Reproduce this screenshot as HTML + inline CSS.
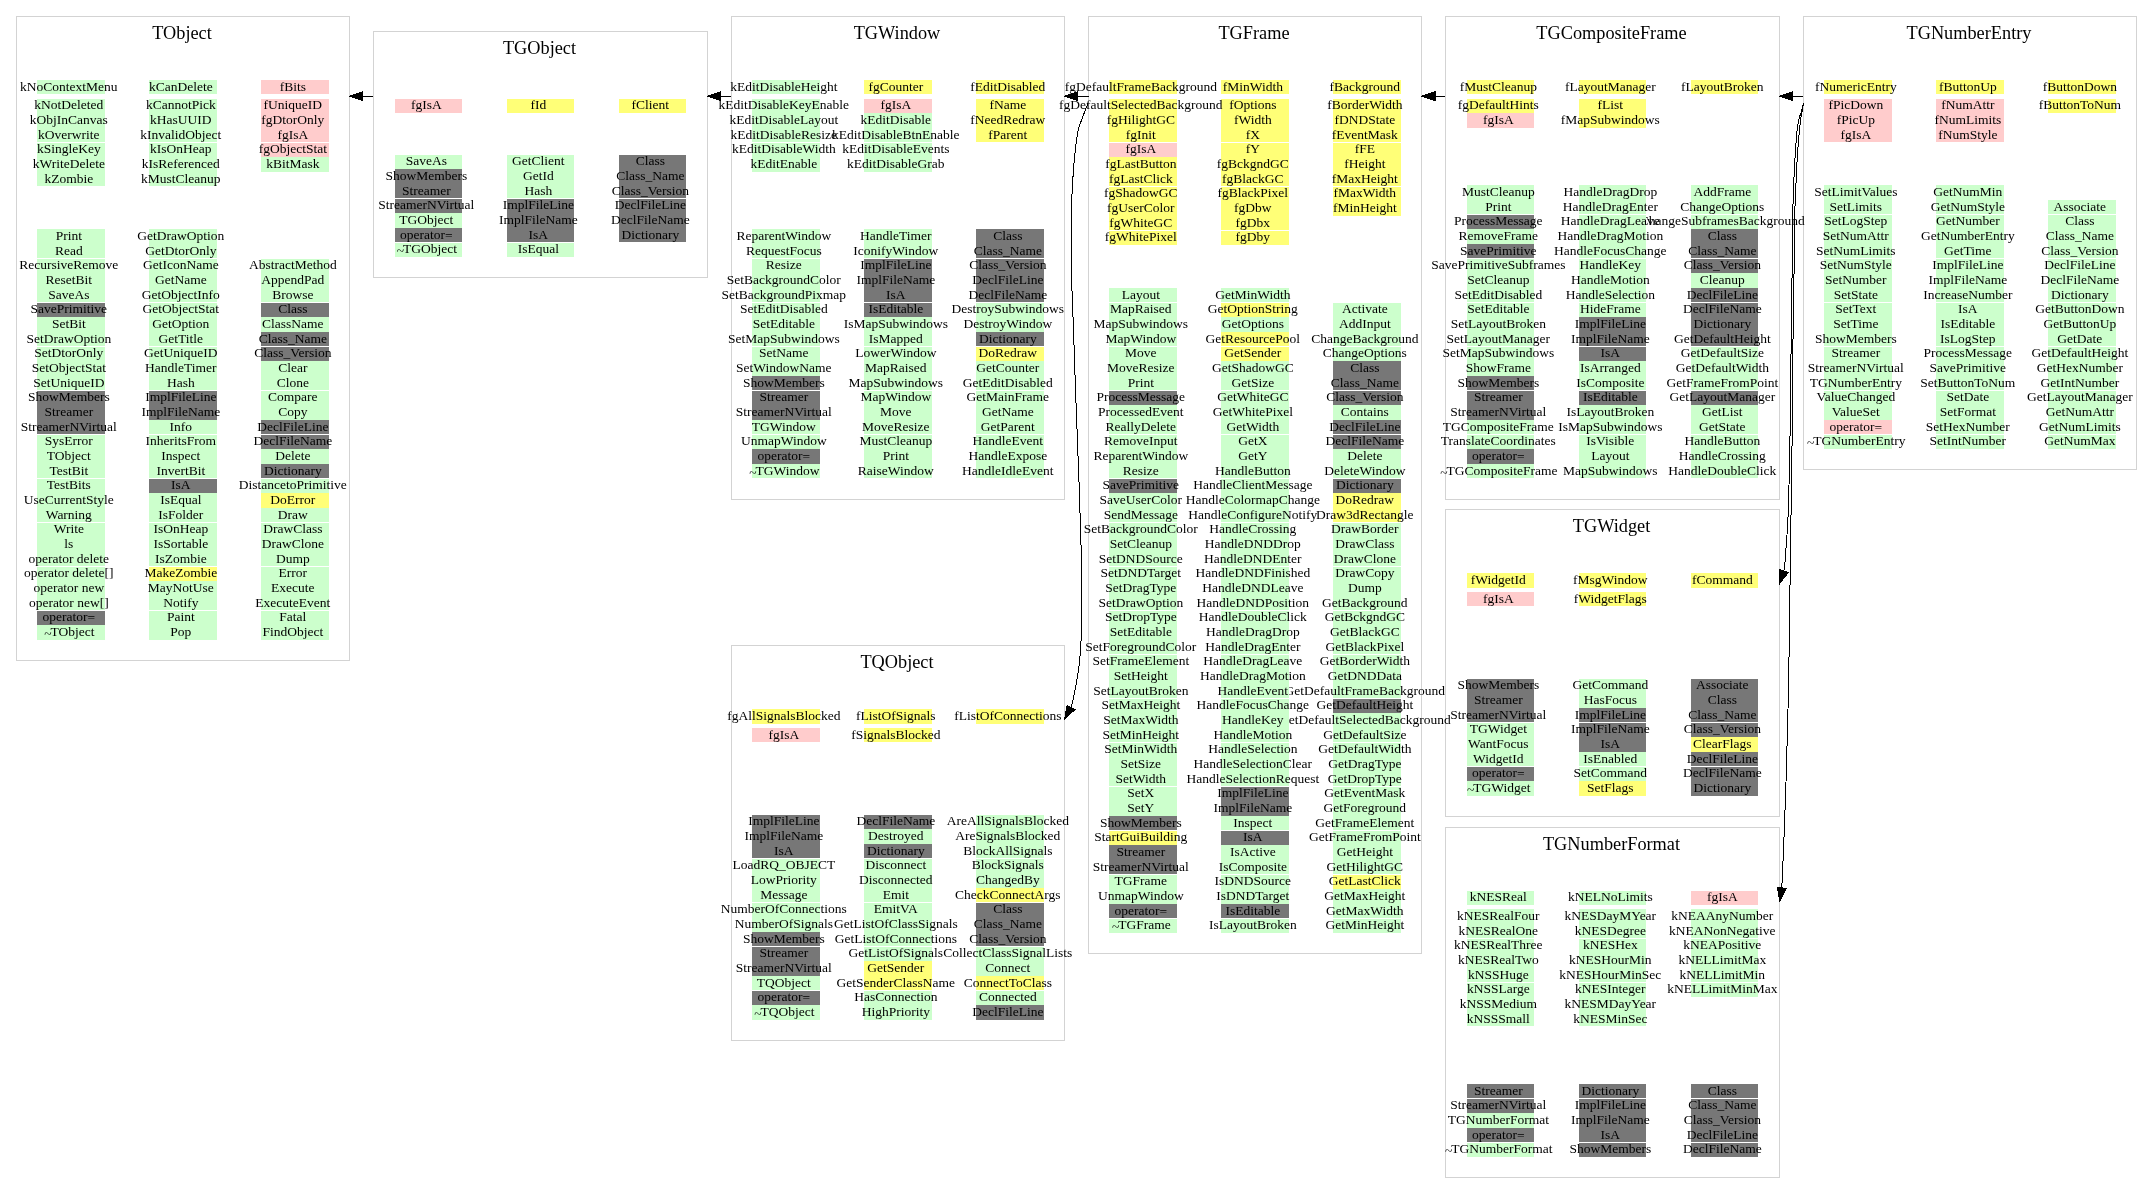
<!DOCTYPE html>
<html><head><meta charset="utf-8"><title>TGNumberEntry inheritance / member chart</title>
<style>
html,body{margin:0;padding:0;background:#fff;}
body{width:2152px;height:1204px;position:relative;overflow:hidden;font-family:"Liberation Serif",serif;color:#000;}
.b{position:absolute;border:1px solid #d3d3d3;box-sizing:border-box;}
.t{position:absolute;font-size:18.3px;line-height:20px;text-align:center;white-space:nowrap;}
.c{position:absolute;width:68px;height:14px;box-sizing:border-box;padding-right:4.4px;display:flex;justify-content:center;white-space:nowrap;font-size:13.5px;line-height:11px;}
.d{padding-top:1px}
.c i{font-style:normal;position:relative;top:2px;left:1px}
.c b{font-weight:normal;position:relative;top:1px}
.g{background:#ccffcc}.y{background:#ffff77}.p{background:#ffcccc}.k{background:#777777}
svg{position:absolute;left:0;top:0;}
#w{position:absolute;left:0;top:0;width:2152px;height:1204px;will-change:transform;}
</style></head><body><div id="w">

<div class="b" style="left:16px;top:16px;width:334px;height:645px"></div>
<div class="b" style="left:373px;top:31px;width:335px;height:247px"></div>
<div class="b" style="left:731px;top:16px;width:334px;height:484px"></div>
<div class="b" style="left:731px;top:645px;width:334px;height:396px"></div>
<div class="b" style="left:1088px;top:16px;width:334px;height:938px"></div>
<div class="b" style="left:1445px;top:16px;width:335px;height:484px"></div>
<div class="b" style="left:1445px;top:509px;width:335px;height:308px"></div>
<div class="b" style="left:1445px;top:827px;width:335px;height:351px"></div>
<div class="b" style="left:1803px;top:16px;width:334px;height:454px"></div>
<div class="t" style="left:15px;top:22.7px;width:334px">TObject</div>
<div class="c p d" style="left:261px;top:80px">fBits</div>
<div class="c p" style="left:261px;top:99px">fUniqueID</div>
<div class="c p d" style="left:261px;top:113px;height:15px">fgDtorOnly</div>
<div class="c p d" style="left:261px;top:128px">fgIsA</div>
<div class="c p" style="left:261px;top:143px">fgObjectStat</div>
<div class="c g d" style="left:261px;top:157px;height:15px">kBitMask</div>
<div class="c g" style="left:261px;top:259px">AbstractMethod</div>
<div class="c g d" style="left:261px;top:273px;height:15px">AppendPad</div>
<div class="c g d" style="left:261px;top:288px">Browse</div>
<div class="c k" style="left:261px;top:303px">Class</div>
<div class="c g d" style="left:261px;top:317px;height:15px">ClassName</div>
<div class="c k d" style="left:261px;top:332px">Class_Name</div>
<div class="c k" style="left:261px;top:347px">Class_Version</div>
<div class="c g d" style="left:261px;top:361px;height:15px">Clear</div>
<div class="c g d" style="left:261px;top:376px">Clone</div>
<div class="c g" style="left:261px;top:391px">Compare</div>
<div class="c g d" style="left:261px;top:405px;height:15px">Copy</div>
<div class="c k d" style="left:261px;top:420px">DeclFileLine</div>
<div class="c k" style="left:261px;top:435px">DeclFileName</div>
<div class="c g d" style="left:261px;top:449px;height:15px">Delete</div>
<div class="c k d" style="left:261px;top:464px">Dictionary</div>
<div class="c g" style="left:261px;top:479px">DistancetoPrimitive</div>
<div class="c y d" style="left:261px;top:493px;height:15px">DoError</div>
<div class="c g d" style="left:261px;top:508px">Draw</div>
<div class="c g" style="left:261px;top:523px">DrawClass</div>
<div class="c g d" style="left:261px;top:537px;height:15px">DrawClone</div>
<div class="c g d" style="left:261px;top:552px">Dump</div>
<div class="c g" style="left:261px;top:567px">Error</div>
<div class="c g d" style="left:261px;top:581px;height:15px">Execute</div>
<div class="c g d" style="left:261px;top:596px">ExecuteEvent</div>
<div class="c g" style="left:261px;top:611px">Fatal</div>
<div class="c g d" style="left:261px;top:625px;height:15px">FindObject</div>
<div class="c g d" style="left:149px;top:80px">kCanDelete</div>
<div class="c g" style="left:149px;top:99px">kCannotPick</div>
<div class="c g d" style="left:149px;top:113px;height:15px">kHasUUID</div>
<div class="c g d" style="left:149px;top:128px">kInvalidObject</div>
<div class="c g" style="left:149px;top:143px">kIsOnHeap</div>
<div class="c g d" style="left:149px;top:157px;height:15px">kIsReferenced</div>
<div class="c g d" style="left:149px;top:172px">kMustCleanup</div>
<div class="c g d" style="left:149px;top:229px;height:15px">GetDrawOption</div>
<div class="c g d" style="left:149px;top:244px">GetDtorOnly</div>
<div class="c g" style="left:149px;top:259px">GetIconName</div>
<div class="c g d" style="left:149px;top:273px;height:15px">GetName</div>
<div class="c g d" style="left:149px;top:288px">GetObjectInfo</div>
<div class="c g" style="left:149px;top:303px">GetObjectStat</div>
<div class="c g d" style="left:149px;top:317px;height:15px">GetOption</div>
<div class="c g d" style="left:149px;top:332px">GetTitle</div>
<div class="c g" style="left:149px;top:347px">GetUniqueID</div>
<div class="c g d" style="left:149px;top:361px;height:15px">HandleTimer</div>
<div class="c g d" style="left:149px;top:376px">Hash</div>
<div class="c k" style="left:149px;top:391px">ImplFileLine</div>
<div class="c k d" style="left:149px;top:405px;height:15px">ImplFileName</div>
<div class="c g d" style="left:149px;top:420px">Info</div>
<div class="c g" style="left:149px;top:435px">InheritsFrom</div>
<div class="c g d" style="left:149px;top:449px;height:15px">Inspect</div>
<div class="c g d" style="left:149px;top:464px">InvertBit</div>
<div class="c k" style="left:149px;top:479px">IsA</div>
<div class="c g d" style="left:149px;top:493px;height:15px">IsEqual</div>
<div class="c g d" style="left:149px;top:508px">IsFolder</div>
<div class="c g" style="left:149px;top:523px">IsOnHeap</div>
<div class="c g d" style="left:149px;top:537px;height:15px">IsSortable</div>
<div class="c g d" style="left:149px;top:552px">IsZombie</div>
<div class="c y" style="left:149px;top:567px">MakeZombie</div>
<div class="c g d" style="left:149px;top:581px;height:15px">MayNotUse</div>
<div class="c g d" style="left:149px;top:596px">Notify</div>
<div class="c g" style="left:149px;top:611px">Paint</div>
<div class="c g d" style="left:149px;top:625px;height:15px">Pop</div>
<div class="c g d" style="left:37px;top:80px">kNoContextMenu</div>
<div class="c g" style="left:37px;top:99px">kNotDeleted</div>
<div class="c g d" style="left:37px;top:113px;height:15px">kObjInCanvas</div>
<div class="c g d" style="left:37px;top:128px">kOverwrite</div>
<div class="c g" style="left:37px;top:143px">kSingleKey</div>
<div class="c g d" style="left:37px;top:157px;height:15px">kWriteDelete</div>
<div class="c g d" style="left:37px;top:172px">kZombie</div>
<div class="c g d" style="left:37px;top:229px;height:15px">Print</div>
<div class="c g d" style="left:37px;top:244px">Read</div>
<div class="c g" style="left:37px;top:259px">RecursiveRemove</div>
<div class="c g d" style="left:37px;top:273px;height:15px">ResetBit</div>
<div class="c g d" style="left:37px;top:288px">SaveAs</div>
<div class="c k" style="left:37px;top:303px">SavePrimitive</div>
<div class="c g d" style="left:37px;top:317px;height:15px">SetBit</div>
<div class="c g d" style="left:37px;top:332px">SetDrawOption</div>
<div class="c g" style="left:37px;top:347px">SetDtorOnly</div>
<div class="c g d" style="left:37px;top:361px;height:15px">SetObjectStat</div>
<div class="c g d" style="left:37px;top:376px">SetUniqueID</div>
<div class="c k" style="left:37px;top:391px">ShowMembers</div>
<div class="c k d" style="left:37px;top:405px;height:15px">Streamer</div>
<div class="c k d" style="left:37px;top:420px">StreamerNVirtual</div>
<div class="c g" style="left:37px;top:435px">SysError</div>
<div class="c g d" style="left:37px;top:449px;height:15px">TObject</div>
<div class="c g d" style="left:37px;top:464px">TestBit</div>
<div class="c g" style="left:37px;top:479px">TestBits</div>
<div class="c g d" style="left:37px;top:493px;height:15px">UseCurrentStyle</div>
<div class="c g d" style="left:37px;top:508px">Warning</div>
<div class="c g" style="left:37px;top:523px">Write</div>
<div class="c g d" style="left:37px;top:537px;height:15px">ls</div>
<div class="c g d" style="left:37px;top:552px">operator delete</div>
<div class="c g" style="left:37px;top:567px">operator delete[]</div>
<div class="c g d" style="left:37px;top:581px;height:15px">operator new</div>
<div class="c g d" style="left:37px;top:596px">operator new[]</div>
<div class="c k" style="left:37px;top:611px">operator<b>=</b></div>
<div class="c g d" style="left:37px;top:625px;height:15px"><i>~</i>TObject</div>
<div class="t" style="left:372px;top:37.7px;width:335px">TGObject</div>
<div class="c y" style="left:619px;top:99px;width:67px">fClient</div>
<div class="c k" style="left:619px;top:155px;width:67px">Class</div>
<div class="c k d" style="left:619px;top:169px;height:15px;width:67px">Class_Name</div>
<div class="c k d" style="left:619px;top:184px;width:67px">Class_Version</div>
<div class="c k" style="left:619px;top:199px;width:67px">DeclFileLine</div>
<div class="c k d" style="left:619px;top:213px;height:15px;width:67px">DeclFileName</div>
<div class="c k d" style="left:619px;top:228px;width:67px">Dictionary</div>
<div class="c y" style="left:507px;top:99px;width:67px">fId</div>
<div class="c g" style="left:507px;top:155px;width:67px">GetClient</div>
<div class="c g d" style="left:507px;top:169px;height:15px;width:67px">GetId</div>
<div class="c g d" style="left:507px;top:184px;width:67px">Hash</div>
<div class="c k" style="left:507px;top:199px;width:67px">ImplFileLine</div>
<div class="c k d" style="left:507px;top:213px;height:15px;width:67px">ImplFileName</div>
<div class="c k d" style="left:507px;top:228px;width:67px">IsA</div>
<div class="c g" style="left:507px;top:243px;width:67px">IsEqual</div>
<div class="c p" style="left:395px;top:99px;width:67px">fgIsA</div>
<div class="c g" style="left:395px;top:155px;width:67px">SaveAs</div>
<div class="c k d" style="left:395px;top:169px;height:15px;width:67px">ShowMembers</div>
<div class="c k d" style="left:395px;top:184px;width:67px">Streamer</div>
<div class="c k" style="left:395px;top:199px;width:67px">StreamerNVirtual</div>
<div class="c g d" style="left:395px;top:213px;height:15px;width:67px">TGObject</div>
<div class="c k d" style="left:395px;top:228px;width:67px">operator<b>=</b></div>
<div class="c g" style="left:395px;top:243px;width:67px"><i>~</i>TGObject</div>
<div class="t" style="left:730px;top:22.7px;width:334px">TGWindow</div>
<div class="c y d" style="left:976px;top:80px">fEditDisabled</div>
<div class="c y" style="left:976px;top:99px">fName</div>
<div class="c y d" style="left:976px;top:113px;height:15px">fNeedRedraw</div>
<div class="c y d" style="left:976px;top:128px">fParent</div>
<div class="c k d" style="left:976px;top:229px;height:15px">Class</div>
<div class="c k d" style="left:976px;top:244px">Class_Name</div>
<div class="c k" style="left:976px;top:259px">Class_Version</div>
<div class="c k d" style="left:976px;top:273px;height:15px">DeclFileLine</div>
<div class="c k d" style="left:976px;top:288px">DeclFileName</div>
<div class="c g" style="left:976px;top:303px">DestroySubwindows</div>
<div class="c g d" style="left:976px;top:317px;height:15px">DestroyWindow</div>
<div class="c k d" style="left:976px;top:332px">Dictionary</div>
<div class="c y" style="left:976px;top:347px">DoRedraw</div>
<div class="c g d" style="left:976px;top:361px;height:15px">GetCounter</div>
<div class="c g d" style="left:976px;top:376px">GetEditDisabled</div>
<div class="c g" style="left:976px;top:391px">GetMainFrame</div>
<div class="c g d" style="left:976px;top:405px;height:15px">GetName</div>
<div class="c g d" style="left:976px;top:420px">GetParent</div>
<div class="c g" style="left:976px;top:435px">HandleEvent</div>
<div class="c g d" style="left:976px;top:449px;height:15px">HandleExpose</div>
<div class="c g d" style="left:976px;top:464px">HandleIdleEvent</div>
<div class="c y d" style="left:864px;top:80px">fgCounter</div>
<div class="c p" style="left:864px;top:99px">fgIsA</div>
<div class="c g d" style="left:864px;top:113px;height:15px">kEditDisable</div>
<div class="c g d" style="left:864px;top:128px">kEditDisableBtnEnable</div>
<div class="c g" style="left:864px;top:143px">kEditDisableEvents</div>
<div class="c g d" style="left:864px;top:157px;height:15px">kEditDisableGrab</div>
<div class="c g d" style="left:864px;top:229px;height:15px">HandleTimer</div>
<div class="c g d" style="left:864px;top:244px">IconifyWindow</div>
<div class="c k" style="left:864px;top:259px">ImplFileLine</div>
<div class="c k d" style="left:864px;top:273px;height:15px">ImplFileName</div>
<div class="c k d" style="left:864px;top:288px">IsA</div>
<div class="c k" style="left:864px;top:303px">IsEditable</div>
<div class="c g d" style="left:864px;top:317px;height:15px">IsMapSubwindows</div>
<div class="c g d" style="left:864px;top:332px">IsMapped</div>
<div class="c g" style="left:864px;top:347px">LowerWindow</div>
<div class="c g d" style="left:864px;top:361px;height:15px">MapRaised</div>
<div class="c g d" style="left:864px;top:376px">MapSubwindows</div>
<div class="c g" style="left:864px;top:391px">MapWindow</div>
<div class="c g d" style="left:864px;top:405px;height:15px">Move</div>
<div class="c g d" style="left:864px;top:420px">MoveResize</div>
<div class="c g" style="left:864px;top:435px">MustCleanup</div>
<div class="c g d" style="left:864px;top:449px;height:15px">Print</div>
<div class="c g d" style="left:864px;top:464px">RaiseWindow</div>
<div class="c g d" style="left:752px;top:80px">kEditDisableHeight</div>
<div class="c g" style="left:752px;top:99px">kEditDisableKeyEnable</div>
<div class="c g d" style="left:752px;top:113px;height:15px">kEditDisableLayout</div>
<div class="c g d" style="left:752px;top:128px">kEditDisableResize</div>
<div class="c g" style="left:752px;top:143px">kEditDisableWidth</div>
<div class="c g d" style="left:752px;top:157px;height:15px">kEditEnable</div>
<div class="c g d" style="left:752px;top:229px;height:15px">ReparentWindow</div>
<div class="c g d" style="left:752px;top:244px">RequestFocus</div>
<div class="c g" style="left:752px;top:259px">Resize</div>
<div class="c g d" style="left:752px;top:273px;height:15px">SetBackgroundColor</div>
<div class="c g d" style="left:752px;top:288px">SetBackgroundPixmap</div>
<div class="c g" style="left:752px;top:303px">SetEditDisabled</div>
<div class="c g d" style="left:752px;top:317px;height:15px">SetEditable</div>
<div class="c g d" style="left:752px;top:332px">SetMapSubwindows</div>
<div class="c g" style="left:752px;top:347px">SetName</div>
<div class="c g d" style="left:752px;top:361px;height:15px">SetWindowName</div>
<div class="c k d" style="left:752px;top:376px">ShowMembers</div>
<div class="c k" style="left:752px;top:391px">Streamer</div>
<div class="c k d" style="left:752px;top:405px;height:15px">StreamerNVirtual</div>
<div class="c g d" style="left:752px;top:420px">TGWindow</div>
<div class="c g" style="left:752px;top:435px">UnmapWindow</div>
<div class="c k d" style="left:752px;top:449px;height:15px">operator<b>=</b></div>
<div class="c g d" style="left:752px;top:464px"><i>~</i>TGWindow</div>
<div class="t" style="left:730px;top:651.7px;width:334px">TQObject</div>
<div class="c y d" style="left:976px;top:709px;height:15px">fListOfConnections</div>
<div class="c g" style="left:976px;top:815px">AreAllSignalsBlocked</div>
<div class="c g d" style="left:976px;top:829px;height:15px">AreSignalsBlocked</div>
<div class="c g d" style="left:976px;top:844px">BlockAllSignals</div>
<div class="c g" style="left:976px;top:859px">BlockSignals</div>
<div class="c g d" style="left:976px;top:873px;height:15px">ChangedBy</div>
<div class="c y d" style="left:976px;top:888px">CheckConnectArgs</div>
<div class="c k" style="left:976px;top:903px">Class</div>
<div class="c k d" style="left:976px;top:917px;height:15px">Class_Name</div>
<div class="c k d" style="left:976px;top:932px">Class_Version</div>
<div class="c g" style="left:976px;top:947px">CollectClassSignalLists</div>
<div class="c g d" style="left:976px;top:961px;height:15px">Connect</div>
<div class="c y d" style="left:976px;top:976px">ConnectToClass</div>
<div class="c g" style="left:976px;top:991px">Connected</div>
<div class="c k d" style="left:976px;top:1005px;height:15px">DeclFileLine</div>
<div class="c y d" style="left:864px;top:709px;height:15px">fListOfSignals</div>
<div class="c y d" style="left:864px;top:728px">fSignalsBlocked</div>
<div class="c k" style="left:864px;top:815px">DeclFileName</div>
<div class="c g d" style="left:864px;top:829px;height:15px">Destroyed</div>
<div class="c k d" style="left:864px;top:844px">Dictionary</div>
<div class="c g" style="left:864px;top:859px">Disconnect</div>
<div class="c g d" style="left:864px;top:873px;height:15px">Disconnected</div>
<div class="c g d" style="left:864px;top:888px">Emit</div>
<div class="c g" style="left:864px;top:903px">EmitVA</div>
<div class="c g d" style="left:864px;top:917px;height:15px">GetListOfClassSignals</div>
<div class="c g d" style="left:864px;top:932px">GetListOfConnections</div>
<div class="c g" style="left:864px;top:947px">GetListOfSignals</div>
<div class="c y d" style="left:864px;top:961px;height:15px">GetSender</div>
<div class="c y d" style="left:864px;top:976px">GetSenderClassName</div>
<div class="c g" style="left:864px;top:991px">HasConnection</div>
<div class="c g d" style="left:864px;top:1005px;height:15px">HighPriority</div>
<div class="c y d" style="left:752px;top:709px;height:15px">fgAllSignalsBlocked</div>
<div class="c p d" style="left:752px;top:728px">fgIsA</div>
<div class="c k" style="left:752px;top:815px">ImplFileLine</div>
<div class="c k d" style="left:752px;top:829px;height:15px">ImplFileName</div>
<div class="c k d" style="left:752px;top:844px">IsA</div>
<div class="c g" style="left:752px;top:859px">LoadRQ_OBJECT</div>
<div class="c g d" style="left:752px;top:873px;height:15px">LowPriority</div>
<div class="c g d" style="left:752px;top:888px">Message</div>
<div class="c g" style="left:752px;top:903px">NumberOfConnections</div>
<div class="c g d" style="left:752px;top:917px;height:15px">NumberOfSignals</div>
<div class="c k d" style="left:752px;top:932px">ShowMembers</div>
<div class="c k" style="left:752px;top:947px">Streamer</div>
<div class="c k d" style="left:752px;top:961px;height:15px">StreamerNVirtual</div>
<div class="c g d" style="left:752px;top:976px">TQObject</div>
<div class="c k" style="left:752px;top:991px">operator<b>=</b></div>
<div class="c g d" style="left:752px;top:1005px;height:15px"><i>~</i>TQObject</div>
<div class="t" style="left:1087px;top:22.7px;width:334px">TGFrame</div>
<div class="c y d" style="left:1333px;top:80px">fBackground</div>
<div class="c y" style="left:1333px;top:99px">fBorderWidth</div>
<div class="c y d" style="left:1333px;top:113px;height:15px">fDNDState</div>
<div class="c y d" style="left:1333px;top:128px">fEventMask</div>
<div class="c y" style="left:1333px;top:143px">fFE</div>
<div class="c y d" style="left:1333px;top:157px;height:15px">fHeight</div>
<div class="c y d" style="left:1333px;top:172px">fMaxHeight</div>
<div class="c y" style="left:1333px;top:187px">fMaxWidth</div>
<div class="c y d" style="left:1333px;top:201px;height:15px">fMinHeight</div>
<div class="c g" style="left:1333px;top:303px">Activate</div>
<div class="c g d" style="left:1333px;top:317px;height:15px">AddInput</div>
<div class="c g d" style="left:1333px;top:332px">ChangeBackground</div>
<div class="c g" style="left:1333px;top:347px">ChangeOptions</div>
<div class="c k d" style="left:1333px;top:361px;height:15px">Class</div>
<div class="c k d" style="left:1333px;top:376px">Class_Name</div>
<div class="c k" style="left:1333px;top:391px">Class_Version</div>
<div class="c g d" style="left:1333px;top:405px;height:15px">Contains</div>
<div class="c k d" style="left:1333px;top:420px">DeclFileLine</div>
<div class="c k" style="left:1333px;top:435px">DeclFileName</div>
<div class="c g d" style="left:1333px;top:449px;height:15px">Delete</div>
<div class="c g d" style="left:1333px;top:464px">DeleteWindow</div>
<div class="c k" style="left:1333px;top:479px">Dictionary</div>
<div class="c y d" style="left:1333px;top:493px;height:15px">DoRedraw</div>
<div class="c y d" style="left:1333px;top:508px">Draw3dRectangle</div>
<div class="c g" style="left:1333px;top:523px">DrawBorder</div>
<div class="c g d" style="left:1333px;top:537px;height:15px">DrawClass</div>
<div class="c g d" style="left:1333px;top:552px">DrawClone</div>
<div class="c g" style="left:1333px;top:567px">DrawCopy</div>
<div class="c g d" style="left:1333px;top:581px;height:15px">Dump</div>
<div class="c g d" style="left:1333px;top:596px">GetBackground</div>
<div class="c g" style="left:1333px;top:611px">GetBckgndGC</div>
<div class="c g d" style="left:1333px;top:625px;height:15px">GetBlackGC</div>
<div class="c g d" style="left:1333px;top:640px">GetBlackPixel</div>
<div class="c g" style="left:1333px;top:655px">GetBorderWidth</div>
<div class="c g d" style="left:1333px;top:669px;height:15px">GetDNDData</div>
<div class="c g d" style="left:1333px;top:684px">GetDefaultFrameBackground</div>
<div class="c k" style="left:1333px;top:699px">GetDefaultHeight</div>
<div class="c g d" style="left:1333px;top:713px;height:15px">GetDefaultSelectedBackground</div>
<div class="c g d" style="left:1333px;top:728px">GetDefaultSize</div>
<div class="c g" style="left:1333px;top:743px">GetDefaultWidth</div>
<div class="c g d" style="left:1333px;top:757px;height:15px">GetDragType</div>
<div class="c g d" style="left:1333px;top:772px">GetDropType</div>
<div class="c g" style="left:1333px;top:787px">GetEventMask</div>
<div class="c g d" style="left:1333px;top:801px;height:15px">GetForeground</div>
<div class="c g d" style="left:1333px;top:816px">GetFrameElement</div>
<div class="c g" style="left:1333px;top:831px">GetFrameFromPoint</div>
<div class="c g d" style="left:1333px;top:845px;height:15px">GetHeight</div>
<div class="c g d" style="left:1333px;top:860px">GetHilightGC</div>
<div class="c y" style="left:1333px;top:875px">GetLastClick</div>
<div class="c g d" style="left:1333px;top:889px;height:15px">GetMaxHeight</div>
<div class="c g d" style="left:1333px;top:904px">GetMaxWidth</div>
<div class="c g" style="left:1333px;top:919px">GetMinHeight</div>
<div class="c y d" style="left:1221px;top:80px">fMinWidth</div>
<div class="c y" style="left:1221px;top:99px">fOptions</div>
<div class="c y d" style="left:1221px;top:113px;height:15px">fWidth</div>
<div class="c y d" style="left:1221px;top:128px">fX</div>
<div class="c y" style="left:1221px;top:143px">fY</div>
<div class="c y d" style="left:1221px;top:157px;height:15px">fgBckgndGC</div>
<div class="c y d" style="left:1221px;top:172px">fgBlackGC</div>
<div class="c y" style="left:1221px;top:187px">fgBlackPixel</div>
<div class="c y d" style="left:1221px;top:201px;height:15px">fgDbw</div>
<div class="c y d" style="left:1221px;top:216px">fgDbx</div>
<div class="c y" style="left:1221px;top:231px">fgDby</div>
<div class="c g d" style="left:1221px;top:288px">GetMinWidth</div>
<div class="c y" style="left:1221px;top:303px">GetOptionString</div>
<div class="c g d" style="left:1221px;top:317px;height:15px">GetOptions</div>
<div class="c y d" style="left:1221px;top:332px">GetResourcePool</div>
<div class="c y" style="left:1221px;top:347px">GetSender</div>
<div class="c g d" style="left:1221px;top:361px;height:15px">GetShadowGC</div>
<div class="c g d" style="left:1221px;top:376px">GetSize</div>
<div class="c g" style="left:1221px;top:391px">GetWhiteGC</div>
<div class="c g d" style="left:1221px;top:405px;height:15px">GetWhitePixel</div>
<div class="c g d" style="left:1221px;top:420px">GetWidth</div>
<div class="c g" style="left:1221px;top:435px">GetX</div>
<div class="c g d" style="left:1221px;top:449px;height:15px">GetY</div>
<div class="c g d" style="left:1221px;top:464px">HandleButton</div>
<div class="c g" style="left:1221px;top:479px">HandleClientMessage</div>
<div class="c g d" style="left:1221px;top:493px;height:15px">HandleColormapChange</div>
<div class="c g d" style="left:1221px;top:508px">HandleConfigureNotify</div>
<div class="c g" style="left:1221px;top:523px">HandleCrossing</div>
<div class="c g d" style="left:1221px;top:537px;height:15px">HandleDNDDrop</div>
<div class="c g d" style="left:1221px;top:552px">HandleDNDEnter</div>
<div class="c g" style="left:1221px;top:567px">HandleDNDFinished</div>
<div class="c g d" style="left:1221px;top:581px;height:15px">HandleDNDLeave</div>
<div class="c g d" style="left:1221px;top:596px">HandleDNDPosition</div>
<div class="c g" style="left:1221px;top:611px">HandleDoubleClick</div>
<div class="c g d" style="left:1221px;top:625px;height:15px">HandleDragDrop</div>
<div class="c g d" style="left:1221px;top:640px">HandleDragEnter</div>
<div class="c g" style="left:1221px;top:655px">HandleDragLeave</div>
<div class="c g d" style="left:1221px;top:669px;height:15px">HandleDragMotion</div>
<div class="c g d" style="left:1221px;top:684px">HandleEvent</div>
<div class="c g" style="left:1221px;top:699px">HandleFocusChange</div>
<div class="c g d" style="left:1221px;top:713px;height:15px">HandleKey</div>
<div class="c g d" style="left:1221px;top:728px">HandleMotion</div>
<div class="c g" style="left:1221px;top:743px">HandleSelection</div>
<div class="c g d" style="left:1221px;top:757px;height:15px">HandleSelectionClear</div>
<div class="c g d" style="left:1221px;top:772px">HandleSelectionRequest</div>
<div class="c k" style="left:1221px;top:787px">ImplFileLine</div>
<div class="c k d" style="left:1221px;top:801px;height:15px">ImplFileName</div>
<div class="c g d" style="left:1221px;top:816px">Inspect</div>
<div class="c k" style="left:1221px;top:831px">IsA</div>
<div class="c g d" style="left:1221px;top:845px;height:15px">IsActive</div>
<div class="c g d" style="left:1221px;top:860px">IsComposite</div>
<div class="c g" style="left:1221px;top:875px">IsDNDSource</div>
<div class="c g d" style="left:1221px;top:889px;height:15px">IsDNDTarget</div>
<div class="c k d" style="left:1221px;top:904px">IsEditable</div>
<div class="c g" style="left:1221px;top:919px">IsLayoutBroken</div>
<div class="c y d" style="left:1109px;top:80px">fgDefaultFrameBackground</div>
<div class="c y" style="left:1109px;top:99px">fgDefaultSelectedBackground</div>
<div class="c y d" style="left:1109px;top:113px;height:15px">fgHilightGC</div>
<div class="c y d" style="left:1109px;top:128px">fgInit</div>
<div class="c p" style="left:1109px;top:143px">fgIsA</div>
<div class="c y d" style="left:1109px;top:157px;height:15px">fgLastButton</div>
<div class="c y d" style="left:1109px;top:172px">fgLastClick</div>
<div class="c y" style="left:1109px;top:187px">fgShadowGC</div>
<div class="c y d" style="left:1109px;top:201px;height:15px">fgUserColor</div>
<div class="c y d" style="left:1109px;top:216px">fgWhiteGC</div>
<div class="c y" style="left:1109px;top:231px">fgWhitePixel</div>
<div class="c g d" style="left:1109px;top:288px">Layout</div>
<div class="c g" style="left:1109px;top:303px">MapRaised</div>
<div class="c g d" style="left:1109px;top:317px;height:15px">MapSubwindows</div>
<div class="c g d" style="left:1109px;top:332px">MapWindow</div>
<div class="c g" style="left:1109px;top:347px">Move</div>
<div class="c g d" style="left:1109px;top:361px;height:15px">MoveResize</div>
<div class="c g d" style="left:1109px;top:376px">Print</div>
<div class="c k" style="left:1109px;top:391px">ProcessMessage</div>
<div class="c g d" style="left:1109px;top:405px;height:15px">ProcessedEvent</div>
<div class="c g d" style="left:1109px;top:420px">ReallyDelete</div>
<div class="c g" style="left:1109px;top:435px">RemoveInput</div>
<div class="c g d" style="left:1109px;top:449px;height:15px">ReparentWindow</div>
<div class="c g d" style="left:1109px;top:464px">Resize</div>
<div class="c k" style="left:1109px;top:479px">SavePrimitive</div>
<div class="c g d" style="left:1109px;top:493px;height:15px">SaveUserColor</div>
<div class="c g d" style="left:1109px;top:508px">SendMessage</div>
<div class="c g" style="left:1109px;top:523px">SetBackgroundColor</div>
<div class="c g d" style="left:1109px;top:537px;height:15px">SetCleanup</div>
<div class="c g d" style="left:1109px;top:552px">SetDNDSource</div>
<div class="c g" style="left:1109px;top:567px">SetDNDTarget</div>
<div class="c g d" style="left:1109px;top:581px;height:15px">SetDragType</div>
<div class="c g d" style="left:1109px;top:596px">SetDrawOption</div>
<div class="c g" style="left:1109px;top:611px">SetDropType</div>
<div class="c g d" style="left:1109px;top:625px;height:15px">SetEditable</div>
<div class="c g d" style="left:1109px;top:640px">SetForegroundColor</div>
<div class="c g" style="left:1109px;top:655px">SetFrameElement</div>
<div class="c g d" style="left:1109px;top:669px;height:15px">SetHeight</div>
<div class="c g d" style="left:1109px;top:684px">SetLayoutBroken</div>
<div class="c g" style="left:1109px;top:699px">SetMaxHeight</div>
<div class="c g d" style="left:1109px;top:713px;height:15px">SetMaxWidth</div>
<div class="c g d" style="left:1109px;top:728px">SetMinHeight</div>
<div class="c g" style="left:1109px;top:743px">SetMinWidth</div>
<div class="c g d" style="left:1109px;top:757px;height:15px">SetSize</div>
<div class="c g d" style="left:1109px;top:772px">SetWidth</div>
<div class="c g" style="left:1109px;top:787px">SetX</div>
<div class="c g d" style="left:1109px;top:801px;height:15px">SetY</div>
<div class="c k d" style="left:1109px;top:816px">ShowMembers</div>
<div class="c y" style="left:1109px;top:831px">StartGuiBuilding</div>
<div class="c k d" style="left:1109px;top:845px;height:15px">Streamer</div>
<div class="c k d" style="left:1109px;top:860px">StreamerNVirtual</div>
<div class="c g" style="left:1109px;top:875px">TGFrame</div>
<div class="c g d" style="left:1109px;top:889px;height:15px">UnmapWindow</div>
<div class="c k d" style="left:1109px;top:904px">operator<b>=</b></div>
<div class="c g" style="left:1109px;top:919px"><i>~</i>TGFrame</div>
<div class="t" style="left:1444px;top:22.7px;width:335px">TGCompositeFrame</div>
<div class="c y d" style="left:1691px;top:80px;width:67px">fLayoutBroken</div>
<div class="c g d" style="left:1691px;top:185px;height:15px;width:67px">AddFrame</div>
<div class="c g d" style="left:1691px;top:200px;width:67px">ChangeOptions</div>
<div class="c g" style="left:1691px;top:215px;width:67px">ChangeSubframesBackground</div>
<div class="c k d" style="left:1691px;top:229px;height:15px;width:67px">Class</div>
<div class="c k d" style="left:1691px;top:244px;width:67px">Class_Name</div>
<div class="c k" style="left:1691px;top:259px;width:67px">Class_Version</div>
<div class="c g d" style="left:1691px;top:273px;height:15px;width:67px">Cleanup</div>
<div class="c k d" style="left:1691px;top:288px;width:67px">DeclFileLine</div>
<div class="c k" style="left:1691px;top:303px;width:67px">DeclFileName</div>
<div class="c k d" style="left:1691px;top:317px;height:15px;width:67px">Dictionary</div>
<div class="c k d" style="left:1691px;top:332px;width:67px">GetDefaultHeight</div>
<div class="c g" style="left:1691px;top:347px;width:67px">GetDefaultSize</div>
<div class="c g d" style="left:1691px;top:361px;height:15px;width:67px">GetDefaultWidth</div>
<div class="c g d" style="left:1691px;top:376px;width:67px">GetFrameFromPoint</div>
<div class="c k" style="left:1691px;top:391px;width:67px">GetLayoutManager</div>
<div class="c g d" style="left:1691px;top:405px;height:15px;width:67px">GetList</div>
<div class="c g d" style="left:1691px;top:420px;width:67px">GetState</div>
<div class="c g" style="left:1691px;top:435px;width:67px">HandleButton</div>
<div class="c g d" style="left:1691px;top:449px;height:15px;width:67px">HandleCrossing</div>
<div class="c g d" style="left:1691px;top:464px;width:67px">HandleDoubleClick</div>
<div class="c y d" style="left:1579px;top:80px;width:67px">fLayoutManager</div>
<div class="c y" style="left:1579px;top:99px;width:67px">fList</div>
<div class="c y d" style="left:1579px;top:113px;height:15px;width:67px">fMapSubwindows</div>
<div class="c g d" style="left:1579px;top:185px;height:15px;width:67px">HandleDragDrop</div>
<div class="c g d" style="left:1579px;top:200px;width:67px">HandleDragEnter</div>
<div class="c g" style="left:1579px;top:215px;width:67px">HandleDragLeave</div>
<div class="c g d" style="left:1579px;top:229px;height:15px;width:67px">HandleDragMotion</div>
<div class="c g d" style="left:1579px;top:244px;width:67px">HandleFocusChange</div>
<div class="c g" style="left:1579px;top:259px;width:67px">HandleKey</div>
<div class="c g d" style="left:1579px;top:273px;height:15px;width:67px">HandleMotion</div>
<div class="c g d" style="left:1579px;top:288px;width:67px">HandleSelection</div>
<div class="c g" style="left:1579px;top:303px;width:67px">HideFrame</div>
<div class="c k d" style="left:1579px;top:317px;height:15px;width:67px">ImplFileLine</div>
<div class="c k d" style="left:1579px;top:332px;width:67px">ImplFileName</div>
<div class="c k" style="left:1579px;top:347px;width:67px">IsA</div>
<div class="c g d" style="left:1579px;top:361px;height:15px;width:67px">IsArranged</div>
<div class="c g d" style="left:1579px;top:376px;width:67px">IsComposite</div>
<div class="c k" style="left:1579px;top:391px;width:67px">IsEditable</div>
<div class="c g d" style="left:1579px;top:405px;height:15px;width:67px">IsLayoutBroken</div>
<div class="c g d" style="left:1579px;top:420px;width:67px">IsMapSubwindows</div>
<div class="c g" style="left:1579px;top:435px;width:67px">IsVisible</div>
<div class="c g d" style="left:1579px;top:449px;height:15px;width:67px">Layout</div>
<div class="c g d" style="left:1579px;top:464px;width:67px">MapSubwindows</div>
<div class="c y d" style="left:1467px;top:80px;width:67px">fMustCleanup</div>
<div class="c y" style="left:1467px;top:99px;width:67px">fgDefaultHints</div>
<div class="c p d" style="left:1467px;top:113px;height:15px;width:67px">fgIsA</div>
<div class="c g d" style="left:1467px;top:185px;height:15px;width:67px">MustCleanup</div>
<div class="c g d" style="left:1467px;top:200px;width:67px">Print</div>
<div class="c k" style="left:1467px;top:215px;width:67px">ProcessMessage</div>
<div class="c g d" style="left:1467px;top:229px;height:15px;width:67px">RemoveFrame</div>
<div class="c k d" style="left:1467px;top:244px;width:67px">SavePrimitive</div>
<div class="c g" style="left:1467px;top:259px;width:67px">SavePrimitiveSubframes</div>
<div class="c g d" style="left:1467px;top:273px;height:15px;width:67px">SetCleanup</div>
<div class="c g d" style="left:1467px;top:288px;width:67px">SetEditDisabled</div>
<div class="c g" style="left:1467px;top:303px;width:67px">SetEditable</div>
<div class="c g d" style="left:1467px;top:317px;height:15px;width:67px">SetLayoutBroken</div>
<div class="c g d" style="left:1467px;top:332px;width:67px">SetLayoutManager</div>
<div class="c g" style="left:1467px;top:347px;width:67px">SetMapSubwindows</div>
<div class="c g d" style="left:1467px;top:361px;height:15px;width:67px">ShowFrame</div>
<div class="c k d" style="left:1467px;top:376px;width:67px">ShowMembers</div>
<div class="c k" style="left:1467px;top:391px;width:67px">Streamer</div>
<div class="c k d" style="left:1467px;top:405px;height:15px;width:67px">StreamerNVirtual</div>
<div class="c g d" style="left:1467px;top:420px;width:67px">TGCompositeFrame</div>
<div class="c g" style="left:1467px;top:435px;width:67px">TranslateCoordinates</div>
<div class="c k d" style="left:1467px;top:449px;height:15px;width:67px">operator<b>=</b></div>
<div class="c g d" style="left:1467px;top:464px;width:67px"><i>~</i>TGCompositeFrame</div>
<div class="t" style="left:1444px;top:515.7px;width:335px">TGWidget</div>
<div class="c y d" style="left:1691px;top:573px;height:15px;width:67px">fCommand</div>
<div class="c k" style="left:1691px;top:679px;width:67px">Associate</div>
<div class="c k d" style="left:1691px;top:693px;height:15px;width:67px">Class</div>
<div class="c k d" style="left:1691px;top:708px;width:67px">Class_Name</div>
<div class="c k" style="left:1691px;top:723px;width:67px">Class_Version</div>
<div class="c y d" style="left:1691px;top:737px;height:15px;width:67px">ClearFlags</div>
<div class="c k d" style="left:1691px;top:752px;width:67px">DeclFileLine</div>
<div class="c k" style="left:1691px;top:767px;width:67px">DeclFileName</div>
<div class="c k d" style="left:1691px;top:781px;height:15px;width:67px">Dictionary</div>
<div class="c y d" style="left:1579px;top:573px;height:15px;width:67px">fMsgWindow</div>
<div class="c y d" style="left:1579px;top:592px;width:67px">fWidgetFlags</div>
<div class="c g" style="left:1579px;top:679px;width:67px">GetCommand</div>
<div class="c g d" style="left:1579px;top:693px;height:15px;width:67px">HasFocus</div>
<div class="c k d" style="left:1579px;top:708px;width:67px">ImplFileLine</div>
<div class="c k" style="left:1579px;top:723px;width:67px">ImplFileName</div>
<div class="c k d" style="left:1579px;top:737px;height:15px;width:67px">IsA</div>
<div class="c g d" style="left:1579px;top:752px;width:67px">IsEnabled</div>
<div class="c g" style="left:1579px;top:767px;width:67px">SetCommand</div>
<div class="c y d" style="left:1579px;top:781px;height:15px;width:67px">SetFlags</div>
<div class="c y d" style="left:1467px;top:573px;height:15px;width:67px">fWidgetId</div>
<div class="c p d" style="left:1467px;top:592px;width:67px">fgIsA</div>
<div class="c k" style="left:1467px;top:679px;width:67px">ShowMembers</div>
<div class="c k d" style="left:1467px;top:693px;height:15px;width:67px">Streamer</div>
<div class="c k d" style="left:1467px;top:708px;width:67px">StreamerNVirtual</div>
<div class="c g" style="left:1467px;top:723px;width:67px">TGWidget</div>
<div class="c g d" style="left:1467px;top:737px;height:15px;width:67px">WantFocus</div>
<div class="c g d" style="left:1467px;top:752px;width:67px">WidgetId</div>
<div class="c k" style="left:1467px;top:767px;width:67px">operator<b>=</b></div>
<div class="c g d" style="left:1467px;top:781px;height:15px;width:67px"><i>~</i>TGWidget</div>
<div class="t" style="left:1444px;top:833.7px;width:335px">TGNumberFormat</div>
<div class="c p" style="left:1691px;top:891px;width:67px">fgIsA</div>
<div class="c g d" style="left:1691px;top:909px;height:15px;width:67px">kNEAAnyNumber</div>
<div class="c g d" style="left:1691px;top:924px;width:67px">kNEANonNegative</div>
<div class="c g" style="left:1691px;top:939px;width:67px">kNEAPositive</div>
<div class="c g d" style="left:1691px;top:953px;height:15px;width:67px">kNELLimitMax</div>
<div class="c g d" style="left:1691px;top:968px;width:67px">kNELLimitMin</div>
<div class="c g" style="left:1691px;top:983px;width:67px">kNELLimitMinMax</div>
<div class="c k d" style="left:1691px;top:1084px;width:67px">Class</div>
<div class="c k" style="left:1691px;top:1099px;width:67px">Class_Name</div>
<div class="c k d" style="left:1691px;top:1113px;height:15px;width:67px">Class_Version</div>
<div class="c k d" style="left:1691px;top:1128px;width:67px">DeclFileLine</div>
<div class="c k" style="left:1691px;top:1143px;width:67px">DeclFileName</div>
<div class="c g" style="left:1579px;top:891px;width:67px">kNELNoLimits</div>
<div class="c g d" style="left:1579px;top:909px;height:15px;width:67px">kNESDayMYear</div>
<div class="c g d" style="left:1579px;top:924px;width:67px">kNESDegree</div>
<div class="c g" style="left:1579px;top:939px;width:67px">kNESHex</div>
<div class="c g d" style="left:1579px;top:953px;height:15px;width:67px">kNESHourMin</div>
<div class="c g d" style="left:1579px;top:968px;width:67px">kNESHourMinSec</div>
<div class="c g" style="left:1579px;top:983px;width:67px">kNESInteger</div>
<div class="c g d" style="left:1579px;top:997px;height:15px;width:67px">kNESMDayYear</div>
<div class="c g d" style="left:1579px;top:1012px;width:67px">kNESMinSec</div>
<div class="c k d" style="left:1579px;top:1084px;width:67px">Dictionary</div>
<div class="c k" style="left:1579px;top:1099px;width:67px">ImplFileLine</div>
<div class="c k d" style="left:1579px;top:1113px;height:15px;width:67px">ImplFileName</div>
<div class="c k d" style="left:1579px;top:1128px;width:67px">IsA</div>
<div class="c k" style="left:1579px;top:1143px;width:67px">ShowMembers</div>
<div class="c g" style="left:1467px;top:891px;width:67px">kNESReal</div>
<div class="c g d" style="left:1467px;top:909px;height:15px;width:67px">kNESRealFour</div>
<div class="c g d" style="left:1467px;top:924px;width:67px">kNESRealOne</div>
<div class="c g" style="left:1467px;top:939px;width:67px">kNESRealThree</div>
<div class="c g d" style="left:1467px;top:953px;height:15px;width:67px">kNESRealTwo</div>
<div class="c g d" style="left:1467px;top:968px;width:67px">kNSSHuge</div>
<div class="c g" style="left:1467px;top:983px;width:67px">kNSSLarge</div>
<div class="c g d" style="left:1467px;top:997px;height:15px;width:67px">kNSSMedium</div>
<div class="c g d" style="left:1467px;top:1012px;width:67px">kNSSSmall</div>
<div class="c k d" style="left:1467px;top:1084px;width:67px">Streamer</div>
<div class="c k" style="left:1467px;top:1099px;width:67px">StreamerNVirtual</div>
<div class="c g d" style="left:1467px;top:1113px;height:15px;width:67px">TGNumberFormat</div>
<div class="c k d" style="left:1467px;top:1128px;width:67px">operator<b>=</b></div>
<div class="c g" style="left:1467px;top:1143px;width:67px"><i>~</i>TGNumberFormat</div>
<div class="t" style="left:1802px;top:22.7px;width:334px">TGNumberEntry</div>
<div class="c y d" style="left:2048px;top:80px">fButtonDown</div>
<div class="c y" style="left:2048px;top:99px">fButtonToNum</div>
<div class="c g d" style="left:2048px;top:200px">Associate</div>
<div class="c g" style="left:2048px;top:215px">Class</div>
<div class="c g d" style="left:2048px;top:229px;height:15px">Class_Name</div>
<div class="c g d" style="left:2048px;top:244px">Class_Version</div>
<div class="c g" style="left:2048px;top:259px">DeclFileLine</div>
<div class="c g d" style="left:2048px;top:273px;height:15px">DeclFileName</div>
<div class="c g d" style="left:2048px;top:288px">Dictionary</div>
<div class="c g" style="left:2048px;top:303px">GetButtonDown</div>
<div class="c g d" style="left:2048px;top:317px;height:15px">GetButtonUp</div>
<div class="c g d" style="left:2048px;top:332px">GetDate</div>
<div class="c g" style="left:2048px;top:347px">GetDefaultHeight</div>
<div class="c g d" style="left:2048px;top:361px;height:15px">GetHexNumber</div>
<div class="c g d" style="left:2048px;top:376px">GetIntNumber</div>
<div class="c g" style="left:2048px;top:391px">GetLayoutManager</div>
<div class="c g d" style="left:2048px;top:405px;height:15px">GetNumAttr</div>
<div class="c g d" style="left:2048px;top:420px">GetNumLimits</div>
<div class="c g" style="left:2048px;top:435px">GetNumMax</div>
<div class="c y d" style="left:1936px;top:80px">fButtonUp</div>
<div class="c p" style="left:1936px;top:99px">fNumAttr</div>
<div class="c p d" style="left:1936px;top:113px;height:15px">fNumLimits</div>
<div class="c p d" style="left:1936px;top:128px">fNumStyle</div>
<div class="c g d" style="left:1936px;top:185px;height:15px">GetNumMin</div>
<div class="c g d" style="left:1936px;top:200px">GetNumStyle</div>
<div class="c g" style="left:1936px;top:215px">GetNumber</div>
<div class="c g d" style="left:1936px;top:229px;height:15px">GetNumberEntry</div>
<div class="c g d" style="left:1936px;top:244px">GetTime</div>
<div class="c g" style="left:1936px;top:259px">ImplFileLine</div>
<div class="c g d" style="left:1936px;top:273px;height:15px">ImplFileName</div>
<div class="c g d" style="left:1936px;top:288px">IncreaseNumber</div>
<div class="c g" style="left:1936px;top:303px">IsA</div>
<div class="c g d" style="left:1936px;top:317px;height:15px">IsEditable</div>
<div class="c g d" style="left:1936px;top:332px">IsLogStep</div>
<div class="c g" style="left:1936px;top:347px">ProcessMessage</div>
<div class="c g d" style="left:1936px;top:361px;height:15px">SavePrimitive</div>
<div class="c g d" style="left:1936px;top:376px">SetButtonToNum</div>
<div class="c g" style="left:1936px;top:391px">SetDate</div>
<div class="c g d" style="left:1936px;top:405px;height:15px">SetFormat</div>
<div class="c g d" style="left:1936px;top:420px">SetHexNumber</div>
<div class="c g" style="left:1936px;top:435px">SetIntNumber</div>
<div class="c y d" style="left:1824px;top:80px">fNumericEntry</div>
<div class="c p" style="left:1824px;top:99px">fPicDown</div>
<div class="c p d" style="left:1824px;top:113px;height:15px">fPicUp</div>
<div class="c p d" style="left:1824px;top:128px">fgIsA</div>
<div class="c g d" style="left:1824px;top:185px;height:15px">SetLimitValues</div>
<div class="c g d" style="left:1824px;top:200px">SetLimits</div>
<div class="c g" style="left:1824px;top:215px">SetLogStep</div>
<div class="c g d" style="left:1824px;top:229px;height:15px">SetNumAttr</div>
<div class="c g d" style="left:1824px;top:244px">SetNumLimits</div>
<div class="c g" style="left:1824px;top:259px">SetNumStyle</div>
<div class="c g d" style="left:1824px;top:273px;height:15px">SetNumber</div>
<div class="c g d" style="left:1824px;top:288px">SetState</div>
<div class="c g" style="left:1824px;top:303px">SetText</div>
<div class="c g d" style="left:1824px;top:317px;height:15px">SetTime</div>
<div class="c g d" style="left:1824px;top:332px">ShowMembers</div>
<div class="c g" style="left:1824px;top:347px">Streamer</div>
<div class="c g d" style="left:1824px;top:361px;height:15px">StreamerNVirtual</div>
<div class="c g d" style="left:1824px;top:376px">TGNumberEntry</div>
<div class="c g" style="left:1824px;top:391px">ValueChanged</div>
<div class="c g d" style="left:1824px;top:405px;height:15px">ValueSet</div>
<div class="c p d" style="left:1824px;top:420px">operator<b>=</b></div>
<div class="c g" style="left:1824px;top:435px"><i>~</i>TGNumberEntry</div>
<svg width="2152" height="1204" viewBox="0 0 2152 1204" fill="none" stroke="#000" stroke-width="1" shape-rendering="crispEdges">
<polygon points="349.5,96.3 362.83,91.86 362.83,100.74" fill="#000" stroke="#000" stroke-width="1"/>
<path d="M373.3,96.3 L362.83,96.3"/>
<polygon points="707.5,96.3 720.83,91.86 720.83,100.74" fill="#000" stroke="#000" stroke-width="1"/>
<path d="M731.3,96.3 L720.83,96.3"/>
<polygon points="1064.5,96.3 1077.83,91.86 1077.83,100.74" fill="#000" stroke="#000" stroke-width="1"/>
<path d="M1088.6,96.3 L1077.83,96.3"/>
<polygon points="1421.7,96.3 1435.03,91.86 1435.03,100.74" fill="#000" stroke="#000" stroke-width="1"/>
<path d="M1445.4,96.3 L1435.03,96.3"/>
<polygon points="1779.5,96.3 1792.83,91.86 1792.83,100.74" fill="#000" stroke="#000" stroke-width="1"/>
<path d="M1803.4,96.3 L1792.83,96.3"/>
<path d="M1088.2,102.6 C1087.1,105.5 1083.37,114.93 1081.6,120 C1079.83,125.07 1078.93,125.03 1077.6,133 C1076.27,140.97 1074.62,155.37 1073.6,167.8 C1072.58,180.23 1071.88,191.23 1071.5,207.6 C1071.12,223.97 1070.95,245.18 1071.3,266 C1071.65,286.82 1072.88,311.5 1073.6,332.5 C1074.32,353.5 1074.7,367.08 1075.6,392 C1076.5,416.92 1078,453.33 1079,482 C1080,510.67 1081.13,541.17 1081.6,564 C1082.07,586.83 1082.12,603 1081.8,619 C1081.48,635 1080.75,648.55 1079.7,660 C1078.65,671.45 1076.88,679.92 1075.5,687.7 C1074.12,695.48 1072.08,703.53 1071.4,706.7"/>
<polygon points="1064.6,719.2 1067.07,705.37 1074.87,709.61" fill="#000" stroke="#000" stroke-width="1"/>
<path d="M1803.6,102.6 C1803.17,104.27 1801.78,109.83 1801,112.6 C1800.22,115.37 1799.55,116.32 1798.9,119.2 C1798.25,122.08 1797.62,125.47 1797.1,129.9 C1796.58,134.33 1796.23,139.6 1795.8,145.8 C1795.37,152 1794.88,160.02 1794.5,167.1 C1794.12,174.18 1793.77,181.22 1793.5,188.3 C1793.23,195.38 1793.08,199.32 1792.9,209.6 C1792.72,219.88 1792.63,232.43 1792.4,250 C1792.17,267.57 1791.78,293.33 1791.5,315 C1791.22,336.67 1790.88,364.17 1790.7,380 C1790.52,395.83 1790.6,395.83 1790.4,410 C1790.2,424.17 1789.82,449.17 1789.5,465 C1789.18,480.83 1788.83,494.67 1788.5,505 C1788.17,515.33 1787.88,520.17 1787.5,527 C1787.12,533.83 1786.72,538.83 1786.2,546 C1785.68,553.17 1784.7,566 1784.4,570"/>
<polygon points="1779.6,583.6 1779.85,569.55 1788.22,572.51" fill="#000" stroke="#000" stroke-width="1"/>
<path d="M1803.6,102.6 C1803.38,103.83 1802.78,107.23 1802.3,110 C1801.82,112.77 1801.17,115.88 1800.7,119.2 C1800.23,122.52 1799.93,125.47 1799.5,129.9 C1799.07,134.33 1798.57,139.6 1798.1,145.8 C1797.63,152 1797.08,160.02 1796.7,167.1 C1796.32,174.18 1796.1,181.22 1795.8,188.3 C1795.5,195.38 1795.13,199.32 1794.9,209.6 C1794.67,219.88 1794.63,233.77 1794.4,250 C1794.17,266.23 1793.8,287 1793.5,307 C1793.2,327 1792.78,352.83 1792.6,370 C1792.42,387.17 1792.58,390.33 1792.4,410 C1792.22,429.67 1791.82,465.83 1791.5,488 C1791.18,510.17 1790.83,520 1790.5,543 C1790.17,566 1789.92,598.17 1789.5,626 C1789.08,653.83 1788.58,684 1788,710 C1787.42,736 1786.72,759.33 1786,782 C1785.28,804.67 1784.4,828.42 1783.7,846 C1783,863.58 1782.12,880.58 1781.8,887.5"/>
<polygon points="1779.8,901 1777.36,887.16 1786.15,888.46" fill="#000" stroke="#000" stroke-width="1"/>
</svg>
</div></body></html>
